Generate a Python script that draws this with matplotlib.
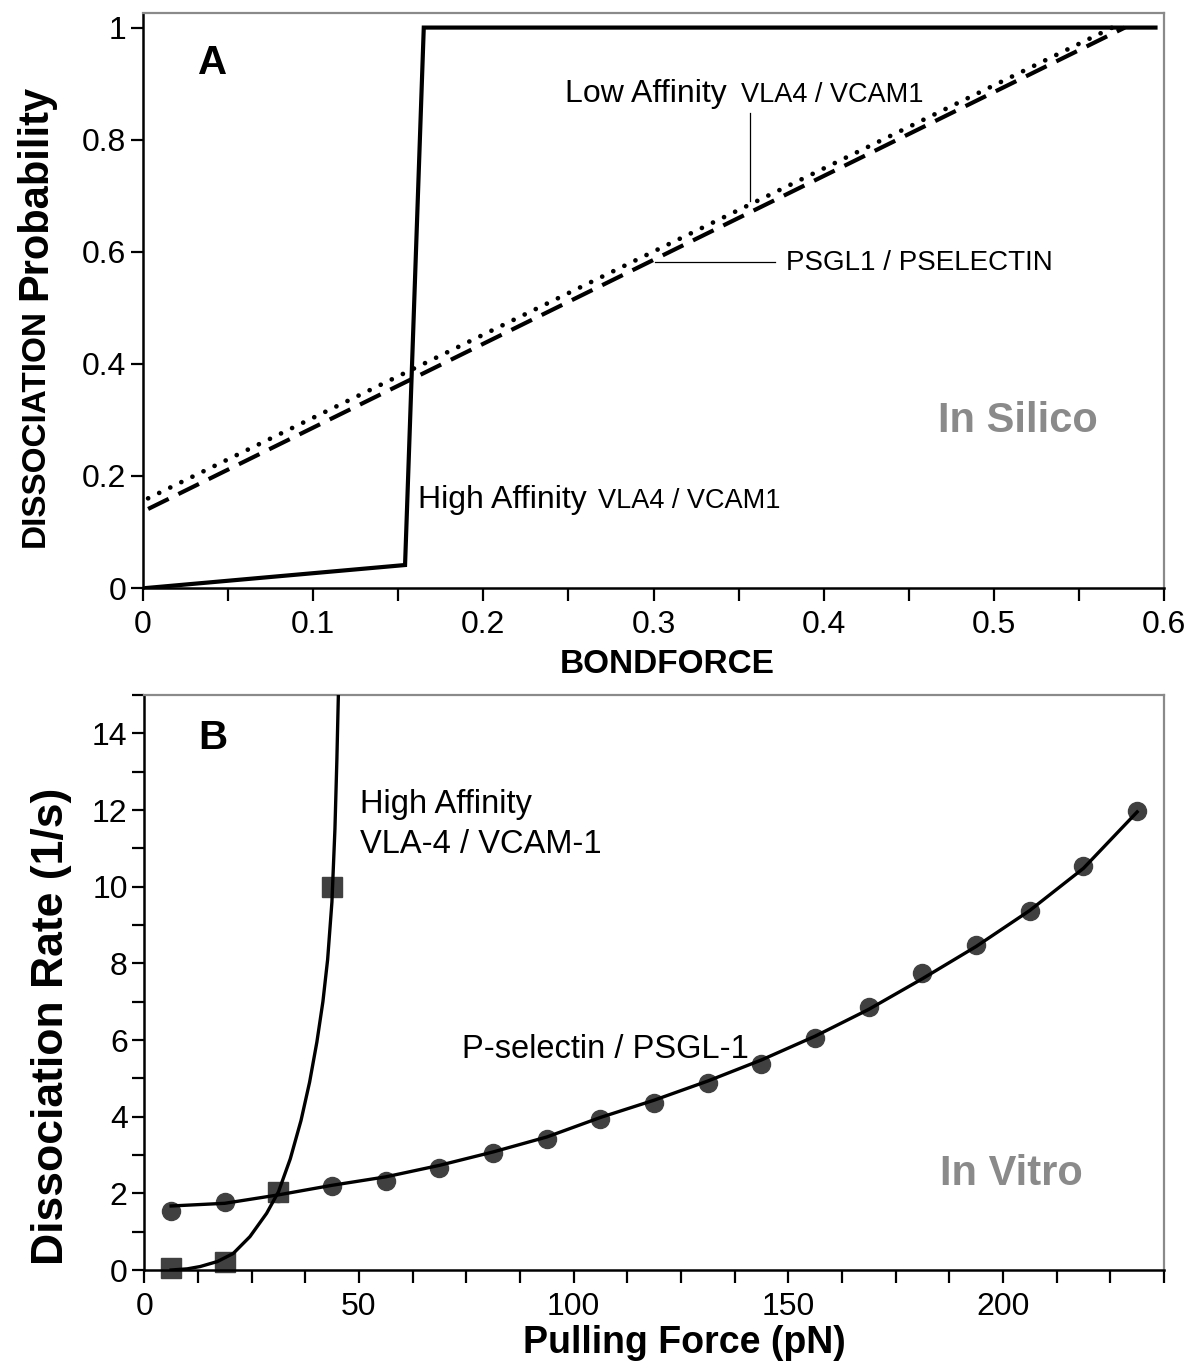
import matplotlib
matplotlib.use("Agg")
import matplotlib.pyplot as plt
from matplotlib.ticker import MultipleLocator

plt.rcParams['font.family'] = ['Liberation Sans', 'DejaVu Sans']

W, H = 1200, 1368

# ---------------- Panel A data (in silico) ----------------
high_aff_x = [0.002, 0.154, 0.165, 0.595]
high_aff_y = [0.0, 0.041, 1.0, 1.0]
low_aff_x = [0.003, 0.575]
low_aff_y = [0.160, 1.008]
psgl_x = [0.003, 0.577]
psgl_y = [0.141, 1.0]

# ---------------- Panel B data (in vitro) ----------------
psel_force = [6.25, 18.75, 31.25, 43.75, 56.25, 68.75, 81.25, 93.75, 106.25,
              118.75, 131.25, 143.75, 156.25, 168.75, 181.25, 193.75, 206.25,
              218.75, 231.25]
psel_rate = [1.55, 1.78, 2.0, 2.19, 2.33, 2.65, 3.04, 3.43, 3.95,
             4.35, 4.88, 5.37, 6.05, 6.86, 7.76, 8.47, 9.36, 10.55, 11.98]
psel_fit_rate = [1.67, 1.74, 1.96, 2.21, 2.43, 2.73, 3.08, 3.47, 3.98,
                 4.43, 4.93, 5.48, 6.10, 6.80, 7.60, 8.44, 9.38, 10.48, 11.95]

vla_force = [6.25, 18.75, 31.25, 43.75]
vla_rate = [0.05, 0.22, 2.04, 10.0]
vla_fit_force = [6.25, 10.0, 13.0, 17.0, 20.7, 24.6, 28.5, 31.25, 34.0, 36.5,
                 38.5, 40.2, 41.6, 42.7, 43.7, 44.4, 44.85, 45.2]
vla_fit_rate = [0.0, 0.03, 0.09, 0.22, 0.43, 0.87, 1.48, 2.04, 2.9, 3.9,
                4.9, 5.95, 7.0, 8.1, 9.6, 11.5, 13.3, 15.0]

xticks_A = [0, 0.1, 0.2, 0.3, 0.4, 0.5, 0.6]
yticks_A = [0, 0.2, 0.4, 0.6, 0.8, 1.0]
xticks_B = [0, 50, 100, 150, 200]
yticks_B = [0, 2, 4, 6, 8, 10, 12, 14]


def fr(x, y):
    return x / W, 1 - y / H


def box(l, t, r, b):
    return [l / W, 1 - b / H, (r - l) / W, (b - t) / H]


fig = plt.figure(figsize=(W / 100, H / 100), dpi=100)
fig.patch.set_facecolor('white')

TICK = 23
GRAY = '#8a8a8a'


def style(ax):
    ax.spines['top'].set_color(GRAY)
    ax.spines['right'].set_color(GRAY)
    ax.spines['top'].set_linewidth(1.6)
    ax.spines['right'].set_linewidth(1.6)
    ax.spines['left'].set_linewidth(1.8)
    ax.spines['bottom'].set_linewidth(1.8)
    ax.tick_params(which='both', direction='out', width=1.6, length=9,
                   top=False, right=False, labelsize=TICK, color='black')
    ax.tick_params(axis='x', which='major', pad=7)
    ax.tick_params(axis='y', which='major', pad=3)


# ---------------- Panel A ----------------
axA = fig.add_axes(box(143, 13, 1164, 588))
axA.plot(high_aff_x, high_aff_y, color='black', lw=3.0, solid_joinstyle='miter')
axA.plot(low_aff_x, low_aff_y, color='black', lw=3.4, linestyle=(0, (0.01, 2.6)),
         dash_capstyle='round')
axA.plot(psgl_x, psgl_y, color='black', lw=3.0, linestyle=(0, (5.5, 2.6)))
axA.set_xlim(0, 0.6)
axA.set_ylim(0, 1.026)
axA.set_xticks(xticks_A)
axA.set_xticklabels(['0', '0.1', '0.2', '0.3', '0.4', '0.5', '0.6'])
axA.set_yticks(yticks_A)
axA.set_yticklabels(['0', '0.2', '0.4', '0.6', '0.8', '1'])
axA.xaxis.set_minor_locator(MultipleLocator(0.05))
style(axA)

# leader lines (annotation)
axA.plot([0.357, 0.357], [0.690, 0.848], color='black', lw=0.9)
axA.plot([0.3006, 0.3715], [0.582, 0.582], color='black', lw=0.9)

# ---------------- Panel B ----------------
axB = fig.add_axes(box(144.3, 695, 1164, 1270))
axB.plot(psel_force, psel_fit_rate, color='black', lw=2.4, zorder=3)
axB.plot(vla_fit_force, vla_fit_rate, color='black', lw=2.4, zorder=3)
axB.plot(psel_force, psel_rate, linestyle='none', marker='o', markersize=13,
         color='#404040', zorder=2, clip_on=False)
axB.plot(vla_force, vla_rate, linestyle='none', marker='s', markersize=14,
         color='#404040', zorder=2, clip_on=False)
axB.set_xlim(0, 237.5)
axB.set_ylim(0, 15)
axB.set_xticks(xticks_B)
axB.set_yticks(yticks_B)
axB.xaxis.set_minor_locator(MultipleLocator(12.5))
axB.yaxis.set_minor_locator(MultipleLocator(1))
style(axB)

# ---------------- Text ----------------
def t(x, y, s, size, weight='normal', color='black', ha='left', va='baseline', rot=0):
    fig.text(*fr(x, y), s, fontsize=size, fontweight=weight, color=color,
             ha=ha, va=va, rotation=rot)

# panel letters
t(213, 63, 'A', 29, 'bold', ha='center', va='center')
t(213, 738, 'B', 29, 'bold', ha='center', va='center')

# axis labels
t(35, 547, 'DISSOCIATION', 24, 'bold', ha='center', va='bottom', rot=90)
t(35, 300, 'Probability', 30, 'bold', ha='center', va='bottom', rot=90)
t(667, 673, 'BONDFORCE', 24, 'bold', ha='center')
t(51, 1026, 'Dissociation Rate (1/s)', 32, 'bold', ha='center', va='center', rot=90)
t(684, 1353, 'Pulling Force (pN)', 27, 'bold', ha='center')

# panel A annotations
t(565, 102, 'Low Affinity', 23)
t(741, 102, 'VLA4 / VCAM1', 19.5)
t(786, 270, 'PSGL1 / PSELECTIN', 20)
t(418, 508, 'High Affinity', 23)
t(598, 508, 'VLA4 / VCAM1', 19.5)
t(938, 432, 'In Silico', 30, 'bold', color=GRAY)

# panel B annotations
t(360, 813, 'High Affinity', 23.5)
t(360, 853, 'VLA-4 / VCAM-1', 23.5)
t(462, 1058, 'P-selectin / PSGL-1', 23.5)
t(940, 1185, 'In Vitro', 30, 'bold', color=GRAY)

fig.savefig('out.png', dpi=100, facecolor='white')
